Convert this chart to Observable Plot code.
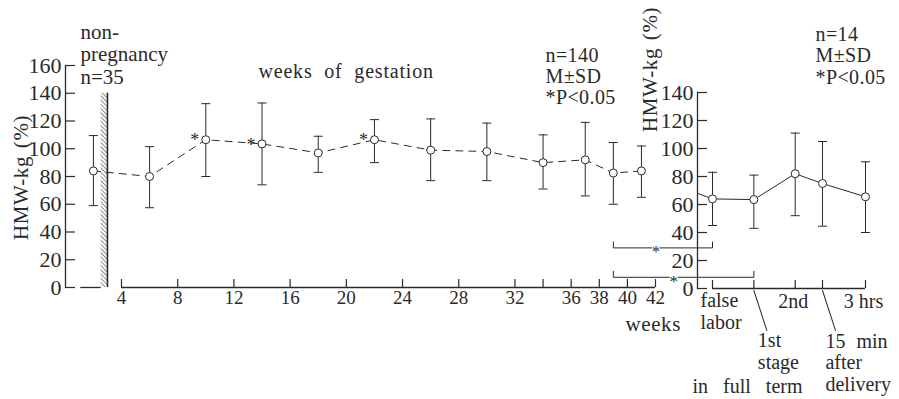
<!DOCTYPE html>
<html><head><meta charset="utf-8">
<script src="https://cdn.jsdelivr.net/npm/d3@7"></script>
<script src="https://cdn.jsdelivr.net/npm/@observablehq/plot@0.6"></script>
<style>
body{margin:0;background:#fff;}
#wrap{position:relative;width:899px;height:399px;overflow:hidden;background:#fff;}
#wrap svg{position:absolute;left:0;top:0;}
</style></head><body><div id="wrap"></div>
<script>
// ---------- data ----------
const npWeek = 2;                 // non-pregnancy column placed before the axis break
const npMean = 84, npHigh = 109.5, npLow = 59;
const gestWeeks = [6, 10, 14, 18, 22, 26, 30, 34, 37, 39, 41];
const gestMean  = [80, 106.5, 103.5, 97, 106.5, 99, 98, 90, 92, 82.5, 84];
const gestHigh  = [101.5, 132.5, 133, 109, 121, 121.5, 118.5, 110, 119, 104.5, 102];
const gestLow   = [57.5, 80, 74, 83, 90, 77, 77, 71, 66, 60, 65];
const sigWeeks  = [10, 14, 22];
const weekTicks = [4, 8, 12, 16, 20, 24, 28, 32, 34, 36, 38, 40, 42];
const weekTickLabels = ["4","8","12","16","20","24","28","32","","36","38","40","42"];
const yTicksLeft = [0, 20, 40, 60, 80, 100, 120, 140, 160];

const laborStages = ["false labor", "1st stage", "2nd", "15 min after delivery", "3 hrs"];
const laborPos  = [0, 1, 2, 2.66, 3.7];
const laborMean = [64, 63.5, 82, 75, 65.5];
const laborHigh = [83, 81, 111, 105, 90.5];
const laborLow  = [45, 43, 52, 44.5, 40];
const laborLeadIn = 68;           // value where the solid line enters at the right-hand axis
const yTicksRight = [0, 20, 40, 60, 80, 100, 120, 140];
// significance: week 39 vs false labor / 1st stage
const sigFromWeek = [39, 39];
const sigToStage  = [0, 1];
const sigLevel    = [29, 8];

// ---------- layout ----------
const W = 899, H = 399;
const font = "'Liberation Serif','Times New Roman',serif";
const ink = "#2a2a2a";
const capSymbol = {draw(ctx, size) { const r = Math.sqrt(size / Math.PI); ctx.moveTo(-r, 0); ctx.lineTo(r, 0); }};
const lineShape = {draw(ctx, l) { ctx.moveTo(0, 0); ctx.lineTo(0, -l); }};

const gest = gestWeeks.map((w, i) => ({w, m: gestMean[i], hi: gestHigh[i], lo: gestLow[i]}));
const allLeft = [{w: npWeek, m: npMean, hi: npHigh, lo: npLow}, ...gest];
const stars = gest.filter(d => sigWeeks.includes(d.w));

const leftX = {domain: [4, 42], range: [121, 655], label: null};
const left = Plot.plot({
  width: W, height: H,
  marginLeft: 65, marginRight: W - 655, marginTop: 65, marginBottom: H - 287,
  x: leftX,
  y: {domain: [0, 160], label: null},
  style: {fontFamily: font, color: ink, background: "transparent", overflow: "visible"},
  marks: [
    Plot.frame({anchor: "left", stroke: ink, strokeWidth: 1.3}),
    Plot.axisY({ticks: yTicksLeft, label: null, tickSize: -10, tickPadding: 14, fontSize: 22, stroke: ink, strokeWidth: 1.2}),
    Plot.axisX({ticks: weekTicks, label: null, tickFormat: d => weekTickLabels[weekTicks.indexOf(d)], tickSize: -8, tickPadding: 11, fontSize: 19, stroke: ink, strokeWidth: 1.2}),
    Plot.ruleY([0], {x1: 4, x2: 42, stroke: ink, strokeWidth: 1.3}),
    Plot.ruleY([0], {x1: 1.1, x2: 2.55, stroke: ink, strokeWidth: 1.3}),
    Plot.rect([0], {x1: 2.55, x2: 3.0, y1: 0, y2: 140, fill: "url(#hatch)"}),
    Plot.ruleX([3.0], {y1: 0, y2: 140, stroke: ink, strokeWidth: 1.6}),
    Plot.line(allLeft, {x: "w", y: "m", stroke: ink, strokeWidth: 1, strokeDasharray: "7,6"}),
    Plot.ruleX(allLeft, {x: "w", y1: "lo", y2: "hi", stroke: ink, strokeWidth: 1}),
    Plot.dot(allLeft, {x: "w", y: "hi", symbol: capSymbol, r: 4.5, stroke: ink, strokeWidth: 1}),
    Plot.dot(allLeft, {x: "w", y: "lo", symbol: capSymbol, r: 4.5, stroke: ink, strokeWidth: 1}),
    Plot.dot(allLeft, {x: "w", y: "m", r: 4, fill: "white", stroke: ink, strokeWidth: 1}),
    Plot.text(stars, {x: "w", y: "m", text: () => "*", dx: -11, dy: 1, fontSize: 18, fill: ink}),
    Plot.text(["non-\npregnancy\nn=35"], {frameAnchor: "top-left", textAnchor: "start", lineAnchor: "bottom", dx: 15, dy: 18, fontSize: 21, lineHeight: 1.07, fill: ink}),
    Plot.text(["weeks of gestation"], {frameAnchor: "top-left", textAnchor: "start", lineAnchor: "bottom", dx: 193, dy: 12, fontSize: 20, fill: ink}),
    Plot.text(["n=140\nM±SD\n*P<0.05"], {frameAnchor: "top-left", textAnchor: "start", lineAnchor: "bottom", dx: 480, dy: 38, fontSize: 20, lineHeight: 1.05, fill: ink}),
    Plot.text(["weeks"], {frameAnchor: "top-left", textAnchor: "start", lineAnchor: "bottom", dx: 560, dy: 265, fontSize: 21, fill: ink}),
    Plot.text(["HMW-kg (%)"], {frameAnchor: "top-left", textAnchor: "middle", lineAnchor: "middle", rotate: -90, dx: -44, dy: 112, fontSize: 21, fill: ink})
  ]
});

const rightXopts = {domain: [0, 3.7], range: [712, 865], label: null};
const rightMarginLeft = 697;
const rightXScale = Plot.scale({x: rightXopts});
const leftXScale = left.scale("x");
const labor = laborPos.map((p, i) => ({p, name: laborStages[i], m: laborMean[i], hi: laborHigh[i], lo: laborLow[i]}));
const leadIn = [{p: rightXScale.invert(rightMarginLeft), m: laborLeadIn}, {p: laborPos[0], m: laborMean[0]}];
const tickH = 4.3;
const brackets = sigFromWeek.flatMap((w, k) => {
  const xa = rightXScale.invert(leftXScale.apply(w));
  const xb = laborPos[sigToStage[k]];
  const l = sigLevel[k];
  return [{k, x: xa, y: l + tickH}, {k, x: xa, y: l}, {k, x: xb, y: l}, {k, x: xb, y: l + tickH}];
});
const bracketStars = sigFromWeek.map((w, k) => {
  const xa = rightXScale.invert(leftXScale.apply(w)), xb = laborPos[sigToStage[k]];
  return {x: xa + (xb - xa) * 0.43, y: sigLevel[k]};
});

const right = Plot.plot({
  width: W, height: H,
  marginLeft: rightMarginLeft, marginRight: W - 865, marginTop: 92, marginBottom: H - 288,
  x: rightXopts,
  y: {domain: [0, 140], label: null},
  style: {fontFamily: font, color: ink, background: "transparent", overflow: "visible"},
  marks: [
    Plot.frame({anchor: "left", stroke: ink, strokeWidth: 1.3}),
    Plot.axisY({ticks: yTicksRight, label: null, tickSize: -10, tickPadding: 14, fontSize: 22, stroke: ink, strokeWidth: 1.2}),
    Plot.axisX({ticks: laborPos, label: null, tickFormat: () => "", tickSize: -8, stroke: ink, strokeWidth: 1.2}),
    Plot.ruleY([0], {x1: 0, x2: 3.7, stroke: ink, strokeWidth: 1.3}),
    Plot.line(leadIn, {x: "p", y: "m", stroke: ink, strokeWidth: 1}),
    Plot.line(labor, {x: "p", y: "m", stroke: ink, strokeWidth: 1}),
    Plot.ruleX(labor, {x: "p", y1: "lo", y2: "hi", stroke: ink, strokeWidth: 1}),
    Plot.dot(labor, {x: "p", y: "hi", symbol: capSymbol, r: 4.5, stroke: ink, strokeWidth: 1}),
    Plot.dot(labor, {x: "p", y: "lo", symbol: capSymbol, r: 4.5, stroke: ink, strokeWidth: 1}),
    Plot.dot(labor, {x: "p", y: "m", r: 4, fill: "white", stroke: ink, strokeWidth: 1}),
    Plot.line(brackets, {x: "x", y: "y", z: "k", stroke: ink, strokeWidth: 1}),
    Plot.dot(bracketStars, {x: "x", y: "y", r: 4, fill: "white"}),
    Plot.text(bracketStars, {x: "x", y: "y", text: () => "*", fontSize: 17, dy: 4, fill: ink}),
    // x labels
    Plot.text([labor[0]], {x: "p", y: 0, text: () => "false\nlabor", textAnchor: "start", lineAnchor: "bottom", dx: -12, dy: 40, fontSize: 20, lineHeight: 1.06, fill: ink}),
    Plot.text([labor[2], labor[4]], {x: "p", y: 0, text: d => d.name, textAnchor: "middle", lineAnchor: "bottom", dx: -2, dy: 19, fontSize: 20, fill: ink}),
    Plot.vector([labor[1], labor[3]], {x: "p", y: 0, length: 42, rotate: 162, anchor: "start", shape: lineShape, dy: 2, stroke: ink, strokeWidth: 1}),
    Plot.text([labor[1]], {x: "p", y: 0, text: () => "1st\nstage", textAnchor: "start", lineAnchor: "bottom", dx: 4, dy: 80, fontSize: 20, lineHeight: 1.07, fill: ink}),
    Plot.text([labor[0]], {x: "p", y: 0, text: () => "in full term", textAnchor: "start", lineAnchor: "bottom", dx: -20, dy: 104, fontSize: 20, fill: ink}),
    Plot.text([labor[3]], {x: "p", y: 0, text: () => "15 min\nafter\ndelivery", textAnchor: "start", lineAnchor: "bottom", dx: 3, dy: 102, fontSize: 20, lineHeight: 1.07, fill: ink}),
    Plot.text(["n=14\nM±SD\n*P<0.05"], {frameAnchor: "top-left", textAnchor: "start", lineAnchor: "bottom", dx: 118, dy: -9, fontSize: 20, lineHeight: 1.07, fill: ink}),
    Plot.text(["HMW-kg (%)"], {frameAnchor: "top-left", textAnchor: "middle", lineAnchor: "middle", rotate: -90, dx: -47, dy: -23, fontSize: 21, fill: ink})
  ]
});

// hatch pattern for the axis break
const defs = d3.select(left).insert("defs", ":first-child");
const pat = defs.append("pattern").attr("id", "hatch").attr("patternUnits", "userSpaceOnUse")
  .attr("width", 3).attr("height", 3).attr("patternTransform", "rotate(-45)");
pat.append("rect").attr("width", 3).attr("height", 3).attr("fill", "white");
pat.append("line").attr("x1", 0).attr("y1", 0).attr("x2", 0).attr("y2", 3).attr("stroke", ink).attr("stroke-width", 1.1);

// typographic spacing as in the printed figure
const spacing = [
  ["weeks of gestation", "0.8px", "6px"],
  ["weeks", "0.6px", null],
  ["HMW-kg (%)", "0.6px", "2px"],
  ["in full term", null, "10px"],
  ["15 minafterdelivery", null, "6px"],
  ["n=140M±SD*P<0.05", "0.4px", null],
  ["n=14M±SD*P<0.05", "0.4px", null]
];
for (const svg of [left, right]) {
  d3.select(svg).selectAll("text").each(function () {
    const s = spacing.find(d => d[0] === this.textContent);
    if (!s) return;
    if (s[1]) this.style.letterSpacing = s[1];
    if (s[2]) this.style.wordSpacing = s[2];
  });
}

const wrap = document.getElementById("wrap");
wrap.appendChild(left);
wrap.appendChild(right);
</script>
</body></html>
